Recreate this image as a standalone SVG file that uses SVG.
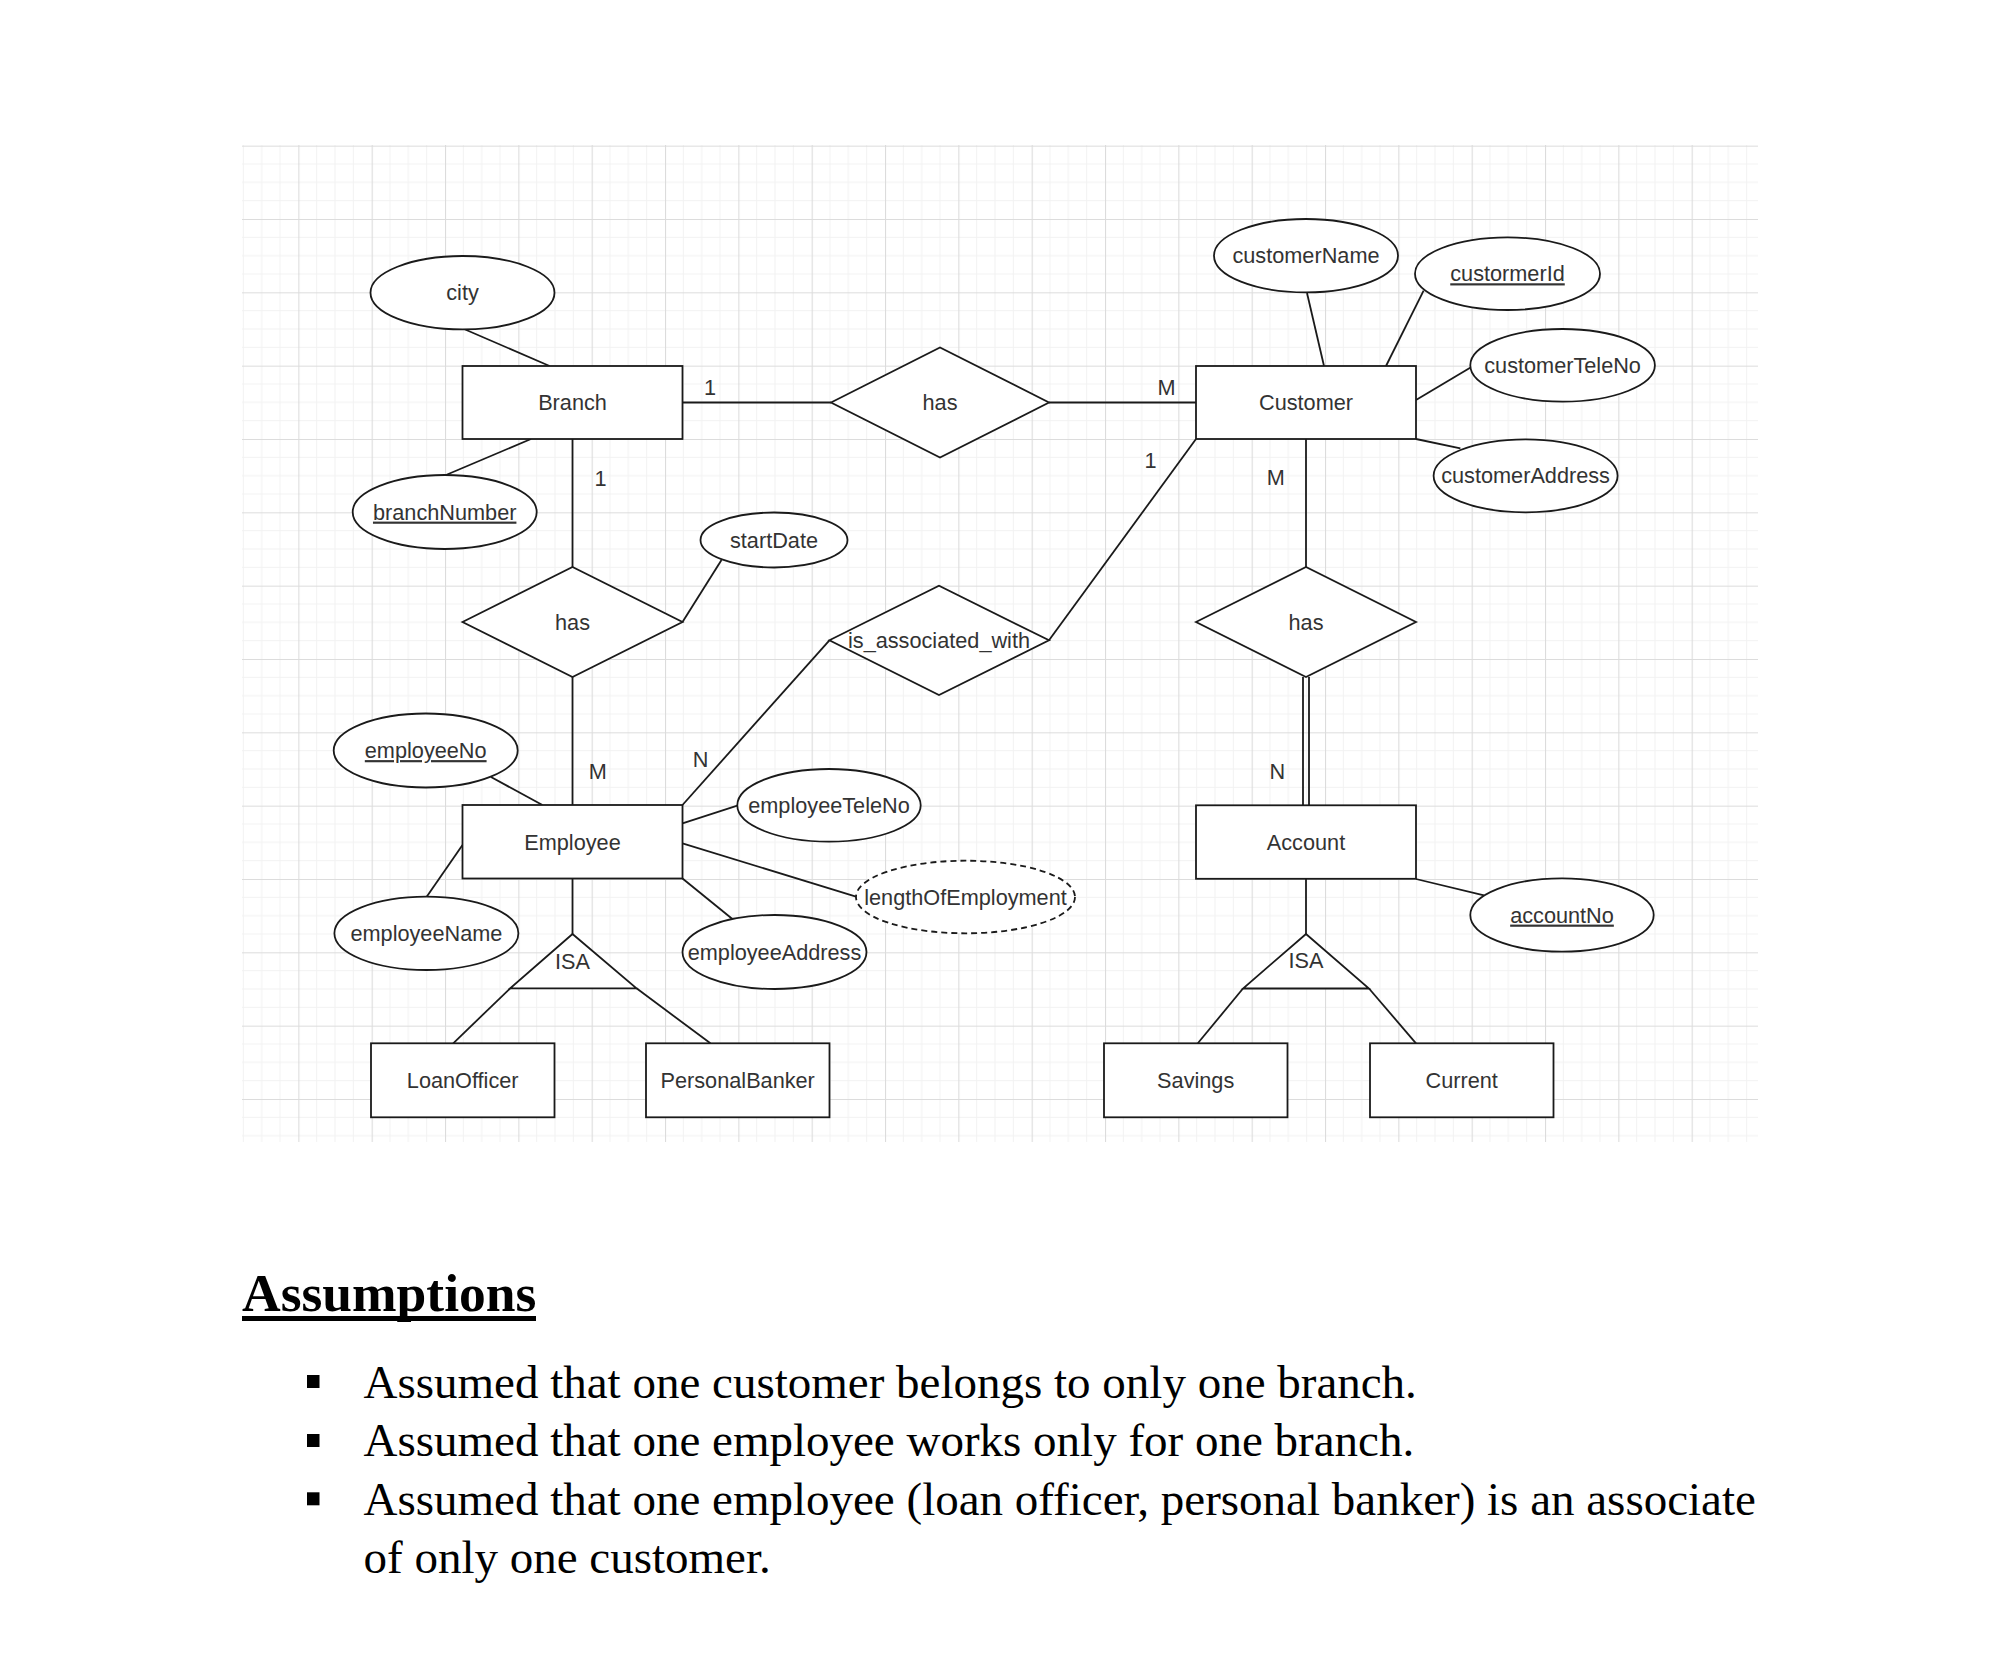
<svg xmlns="http://www.w3.org/2000/svg" width="2000" height="1676" viewBox="0 0 2000 1676">
<style>
  .ent { fill: #ffffff; stroke: #1a1a1a; stroke-width: 1.8; }
  .att { fill: #ffffff; stroke: #1a1a1a; stroke-width: 1.8; }
  .der { fill: #ffffff; stroke: #1a1a1a; stroke-width: 1.8; stroke-dasharray: 6 4; }
  .rel { fill: #ffffff; stroke: #1a1a1a; stroke-width: 1.8; }
  .isa { fill: #ffffff; stroke: #1a1a1a; stroke-width: 1.8; }
  .conn line { stroke: #1a1a1a; stroke-width: 1.8; }
  .t { font-family: "Liberation Sans", Arial, sans-serif; font-size: 21.7px; fill: #333333; text-anchor: middle; }
  .u { text-decoration: underline; }
  .card { font-family: "Liberation Sans", Arial, sans-serif; font-size: 21.7px; fill: #333333; text-anchor: middle; }
  .doc { font-family: "Liberation Serif", "Times New Roman", serif; fill: #000000; }
</style>
<defs>
  <pattern id="grid" patternUnits="userSpaceOnUse" x="225" y="145.667" width="73.333" height="73.333">
    <path d="M18.333 0V73.333M36.667 0V73.333M55 0V73.333M0 18.333H73.333M0 36.667H73.333M0 55H73.333" stroke="#f2f2f2" stroke-width="1" fill="none"/>
    <path d="M0.5 0V73.333M0 0.5H73.333" stroke="#dcdcdc" stroke-width="1.2" fill="none"/>
  </pattern>
</defs>
<rect x="0" y="0" width="2000" height="1676" fill="#ffffff"/>
<rect x="242" y="145" width="1516" height="997" fill="url(#grid)"/>

<g id="connectors" class="conn">
  <line x1="682.5" y1="402.5" x2="831" y2="402.5"/>
  <line x1="1049" y1="402.5" x2="1196" y2="402.5"/>
  <line x1="464" y1="329" x2="549.6" y2="366"/>
  <line x1="446" y1="475" x2="531" y2="439"/>
  <line x1="572.5" y1="439" x2="572.5" y2="567"/>
  <line x1="682.5" y1="622" x2="721.5" y2="560"/>
  <line x1="572.5" y1="677" x2="572.5" y2="805"/>
  <line x1="491" y1="777" x2="542.4" y2="805"/>
  <line x1="462.5" y1="845" x2="426.5" y2="897"/>
  <line x1="682.5" y1="823.3" x2="737.3" y2="805.7"/>
  <line x1="682.5" y1="843.3" x2="856" y2="896.7"/>
  <line x1="682.5" y1="878.5" x2="732.7" y2="919.3"/>
  <line x1="682.5" y1="805" x2="829.4" y2="640.3"/>
  <line x1="1049" y1="640.3" x2="1196" y2="439"/>
  <line x1="1307" y1="293" x2="1324" y2="366"/>
  <line x1="1423.6" y1="290.7" x2="1386" y2="366"/>
  <line x1="1416" y1="400" x2="1471" y2="367.3"/>
  <line x1="1416" y1="439" x2="1460.4" y2="448.3"/>
  <line x1="1306" y1="439" x2="1306" y2="567"/>
  <line x1="1303" y1="677" x2="1303" y2="805.3"/>
  <line x1="1309" y1="677" x2="1309" y2="805.3"/>
  <line x1="1416" y1="879" x2="1484" y2="895.4"/>
  <line x1="572.5" y1="879" x2="572.5" y2="934"/>
  <line x1="510.2" y1="988.3" x2="453.2" y2="1043.3"/>
  <line x1="636.5" y1="988.3" x2="710.4" y2="1043.3"/>
  <line x1="1306" y1="879" x2="1306" y2="934"/>
  <line x1="1243" y1="988.5" x2="1197.8" y2="1043.3"/>
  <line x1="1369" y1="988.5" x2="1416" y2="1043.3"/>
</g>

<g id="labels">
  <text class="card" x="710" y="387" dy="0.35em">1</text>
  <text class="card" x="1166.5" y="387" dy="0.35em">M</text>
  <text class="card" x="600.5" y="478" dy="0.35em">1</text>
  <text class="card" x="597.7" y="771.7" dy="0.35em">M</text>
  <text class="card" x="700.5" y="759" dy="0.35em">N</text>
  <text class="card" x="1150.5" y="460" dy="0.35em">1</text>
  <text class="card" x="1275.7" y="477.7" dy="0.35em">M</text>
  <text class="card" x="1277.4" y="771.7" dy="0.35em">N</text>
</g>

<g id="Branch"><rect class="ent" x="462.5" y="366" width="220" height="73"/><text class="t" x="572.5" y="402.5" dy="0.35em">Branch</text></g>
<g id="Customer"><rect class="ent" x="1196" y="366" width="220" height="73"/><text class="t" x="1306" y="402.5" dy="0.35em">Customer</text></g>
<g id="Employee"><rect class="ent" x="462.5" y="805" width="220" height="73.5"/><text class="t" x="572.5" y="842" dy="0.35em">Employee</text></g>
<g id="Account"><rect class="ent" x="1196" y="805.3" width="220" height="73.5"/><text class="t" x="1306" y="842" dy="0.35em">Account</text></g>
<g id="LoanOfficer"><rect class="ent" x="371" y="1043.3" width="183.5" height="74"/><text class="t" x="462.7" y="1080" dy="0.35em">LoanOfficer</text></g>
<g id="PersonalBanker"><rect class="ent" x="646" y="1043.3" width="183.5" height="74"/><text class="t" x="737.7" y="1080" dy="0.35em">PersonalBanker</text></g>
<g id="Savings"><rect class="ent" x="1104" y="1043.3" width="183.5" height="74"/><text class="t" x="1195.7" y="1080" dy="0.35em">Savings</text></g>
<g id="Current"><rect class="ent" x="1370" y="1043.3" width="183.5" height="74"/><text class="t" x="1461.7" y="1080" dy="0.35em">Current</text></g>

<g id="has_branch_customer"><polygon class="rel" points="831,402.5 940,347.5 1049,402.5 940,457.5"/><text class="t" x="940" y="402.5" dy="0.35em">has</text></g>
<g id="has_branch_employee"><polygon class="rel" points="462.5,622 572.5,567 682.5,622 572.5,677"/><text class="t" x="572.5" y="622" dy="0.35em">has</text></g>
<g id="is_associated_with"><polygon class="rel" points="829.4,640.3 939,585.7 1049,640.3 939,695"/><text class="t" x="939" y="640.3" dy="0.35em">is_associated_with</text></g>
<g id="has_customer_account"><polygon class="rel" points="1196,622 1306,567 1416,622 1306,677"/><text class="t" x="1306" y="622" dy="0.35em">has</text></g>

<g id="city"><ellipse class="att" cx="462.5" cy="292.7" rx="92" ry="36.7"/><text class="t" x="462.5" y="292.7" dy="0.35em">city</text></g>
<g id="branchNumber"><ellipse class="att" cx="444.7" cy="512" rx="92" ry="37"/><text class="t u" x="444.7" y="512" dy="0.35em">branchNumber</text></g>
<g id="startDate"><ellipse class="att" cx="774" cy="540" rx="73.5" ry="27.5"/><text class="t" x="774" y="540" dy="0.35em">startDate</text></g>
<g id="employeeNo"><ellipse class="att" cx="425.7" cy="750.5" rx="92" ry="37"/><text class="t u" x="425.7" y="750.5" dy="0.35em">employeeNo</text></g>
<g id="employeeName"><ellipse class="att" cx="426.4" cy="933.3" rx="92" ry="36.7"/><text class="t" x="426.4" y="933.3" dy="0.35em">employeeName</text></g>
<g id="employeeTeleNo"><ellipse class="att" cx="829" cy="805.3" rx="91.7" ry="36.3"/><text class="t" x="829" y="805.3" dy="0.35em">employeeTeleNo</text></g>
<g id="lengthOfEmployment"><ellipse class="der" cx="965.5" cy="897" rx="109.5" ry="36.3"/><text class="t" x="965.5" y="897" dy="0.35em">lengthOfEmployment</text></g>
<g id="employeeAddress"><ellipse class="att" cx="774.5" cy="952" rx="92" ry="37"/><text class="t" x="774.5" y="952" dy="0.35em">employeeAddress</text></g>
<g id="customerName"><ellipse class="att" cx="1306" cy="255.7" rx="92" ry="36.7"/><text class="t" x="1306" y="255.7" dy="0.35em">customerName</text></g>
<g id="custormerId"><ellipse class="att" cx="1507.5" cy="273.7" rx="92.5" ry="36.3"/><text class="t u" x="1507.5" y="273.7" dy="0.35em">custormerId</text></g>
<g id="customerTeleNo"><ellipse class="att" cx="1562.6" cy="365.3" rx="92.3" ry="36.3"/><text class="t" x="1562.6" y="365.3" dy="0.35em">customerTeleNo</text></g>
<g id="customerAddress"><ellipse class="att" cx="1525.6" cy="475.8" rx="92" ry="36.5"/><text class="t" x="1525.6" y="475.8" dy="0.35em">customerAddress</text></g>
<g id="accountNo"><ellipse class="att" cx="1562" cy="915" rx="91.7" ry="36.7"/><text class="t u" x="1562" y="915" dy="0.35em">accountNo</text></g>

<g id="isa_employee"><polygon class="isa" points="572.5,934 636.5,988.3 510.2,988.3"/><text class="t" x="572.5" y="961" dy="0.35em">ISA</text></g>
<g id="isa_account"><polygon class="isa" points="1306,934 1369,988.5 1243,988.5"/><text class="t" x="1306" y="960.5" dy="0.35em">ISA</text></g>

<g id="assumptions">
  <text class="doc" x="242" y="1311" font-size="53.5" font-weight="bold">Assumptions</text>
  <rect x="242" y="1316" width="294" height="5" fill="#000000"/>
  <rect x="307" y="1375" width="12.5" height="13" fill="#000000"/>
  <rect x="307" y="1434" width="12.5" height="13" fill="#000000"/>
  <rect x="307" y="1492.3" width="12.5" height="13" fill="#000000"/>
  <text class="doc" x="363.5" y="1397.5" font-size="47">Assumed that one customer belongs to only one branch.</text>
  <text class="doc" x="363.5" y="1456.3" font-size="47">Assumed that one employee works only for one branch.</text>
  <text class="doc" x="363.5" y="1514.7" font-size="47">Assumed that one employee (loan officer, personal banker) is an associate</text>
  <text class="doc" x="363.5" y="1572.7" font-size="47">of only one customer.</text>
</g>
</svg>
